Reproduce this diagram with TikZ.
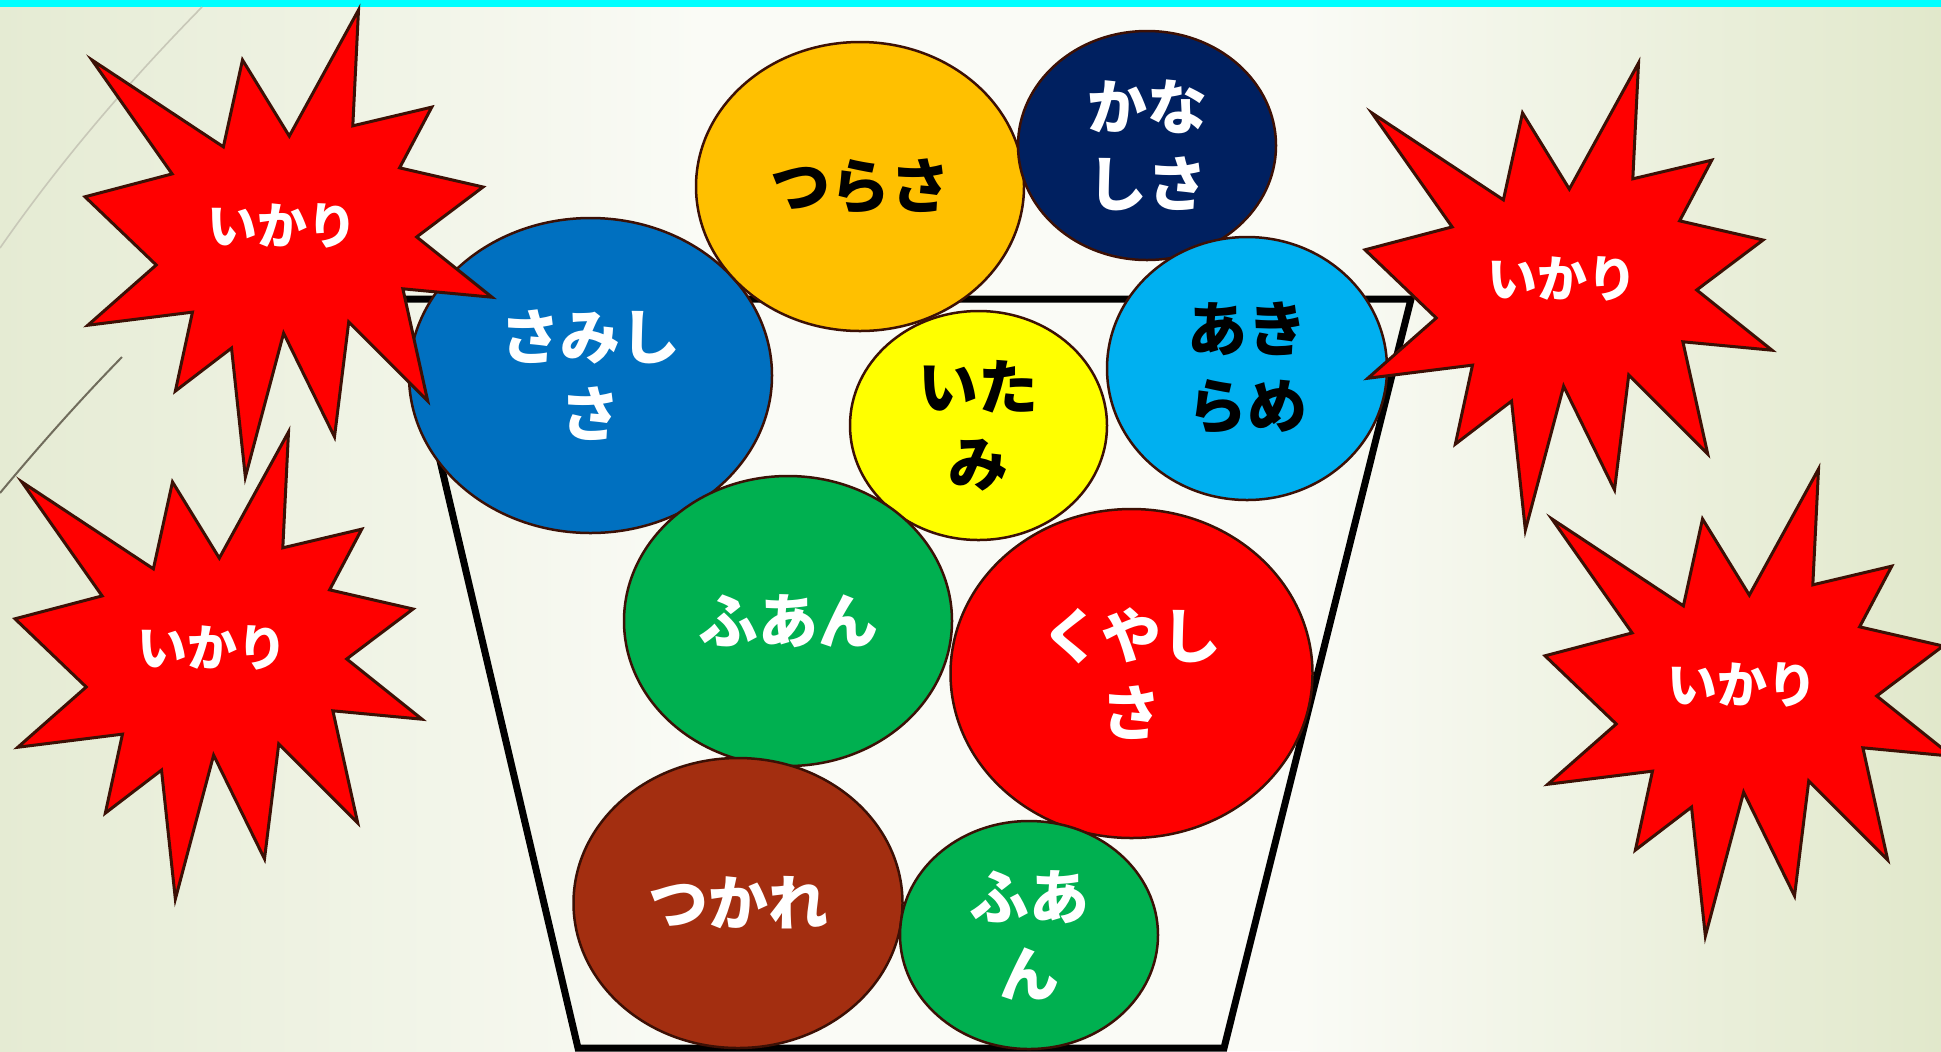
\documentclass[tikz,border=0pt]{standalone}
\usepackage{fontspec}
\newfontfamily\jp{Noto Sans CJK JP}
\usetikzlibrary{shapes.geometric}
\definecolor{bgL}{RGB}{229,235,211}
\definecolor{bgM}{RGB}{250,251,246}
\definecolor{bgR}{RGB}{225,232,203}
\definecolor{topbar}{RGB}{0,255,255}
\definecolor{outl}{RGB}{60,16,5}
\definecolor{cOrange}{RGB}{255,192,0}
\definecolor{cNavy}{RGB}{0,32,96}
\definecolor{cBlue}{RGB}{0,112,192}
\definecolor{cYellow}{RGB}{255,255,0}
\definecolor{cSky}{RGB}{0,176,240}
\definecolor{cGreen}{RGB}{0,176,80}
\definecolor{cRed}{RGB}{255,0,0}
\definecolor{cBrown}{RGB}{163,46,16}
\definecolor{decoA}{RGB}{200,200,184}
\definecolor{decoB}{RGB}{112,108,92}
\tikzset{
  bub/.style n args={3}{ellipse, draw=outl, line width=1.25pt, fill=#1,
    minimum width=#2*0.5pt, minimum height=#3*0.5pt, inner sep=0pt, align=center},
  bubtxt/.style={font=\jp\bfseries\fontsize{30}{38.5}\selectfont, text=#1},
  burstshape/.style={draw=outl, fill=cRed, line width=1.5pt, line join=miter},
  bursttxt/.style={font=\jp\bfseries\fontsize{25}{30}\selectfont, text=white},
  bucket/.style={draw=black, line width=3.5pt, line join=miter},
}
\newcommand{\burstat}[3]{%
  \begin{scope}[shift={(#2,#3)}]
    \draw[burstshape, xscale=407, yscale=467]
      (0.017,0.107) -- (0.340,0.293) -- (0.387,0.107) -- (0.502,0.270) --
      (0.672,0) -- (0.658,0.248) -- (0.852,0.208) -- (0.773,0.338) --
      (0.978,0.379) -- (0.815,0.486) -- (1.0,0.615) -- (0.781,0.597) --
      (0.842,0.837) -- (0.648,0.668) -- (0.613,0.914) -- (0.488,0.692) --
      (0.394,1.0) -- (0.360,0.724) -- (0.222,0.816) -- (0.264,0.647) --
      (0.007,0.675) -- (0.175,0.546) -- (0,0.400) -- (0.214,0.351) -- cycle;
    \node[bursttxt] (#1) at (197,216) {いかり};
  \end{scope}}
\begin{document}
\begin{tikzpicture}[x=0.5pt,y=-0.5pt]
\useasboundingbox (0,0) rectangle (1941,1051);
\clip (0,0) rectangle (1941,1051);
% background
\shade[left color=bgL, right color=bgM] (0,0) rectangle (700,1051);
\fill[bgM] (699,0) rectangle (1301,1051);
\shade[left color=bgM, right color=bgR] (1300,0) rectangle (1941,1051);
\fill[topbar] (0,0) rectangle (1941,7);
% decorative lines
\draw[decoA, line width=0.8pt] (202,7) .. controls (155,55) and (75,140) .. (0,248);
\draw[decoB, line width=1pt] (122,357) .. controls (80,400) and (40,445) .. (0,493);
% bucket
\coordinate (bTL) at (402,299);
\coordinate (bTR) at (1411,299);
\coordinate (bBR) at (1224,1048);
\coordinate (bBL) at (578,1048);
\draw[bucket] (bTL) -- (bTR) -- (bBR) -- (bBL) -- cycle;
% feelings
\node[bub={cBlue}{363}{315}, bubtxt=white] (samishisa) at (590.5,375.5) {さみし\\さ};
\node[bub={cOrange}{328}{289}, bubtxt=black] (tsurasa) at (860,186.5) {つらさ};
\node[bub={cNavy}{258}{229}, bubtxt=white] (kanashisa) at (1147,145.5) {かな\\しさ};
\node[bub={cSky}{280}{263}, bubtxt=black] (akirame) at (1247,368.5) {あき\\らめ};
\node[bub={cYellow}{257}{229}, bubtxt=black] (itami) at (978.5,425.5) {いた\\み};
\node[bub={cGreen}{328}{290}, bubtxt=white] (fuanA) at (788,621) {ふあん};
\node[bub={cRed}{362}{329}, bubtxt=white] (kuyashisa) at (1131.5,673.5) {くやし\\さ};
\node[bub={cBrown}{329}{290}, bubtxt=white] (tsukare) at (738,903) {つかれ};
\node[bub={cGreen}{258}{228}, bubtxt=white] (fuanB) at (1029,935) {ふあ\\ん};
% anger bursts
\burstat{ikariA}{85}{10}
\burstat{ikariB}{1365}{63}
\burstat{ikariC}{15}{432}
\burstat{ikariD}{1545}{469}
\end{tikzpicture}
\end{document}
